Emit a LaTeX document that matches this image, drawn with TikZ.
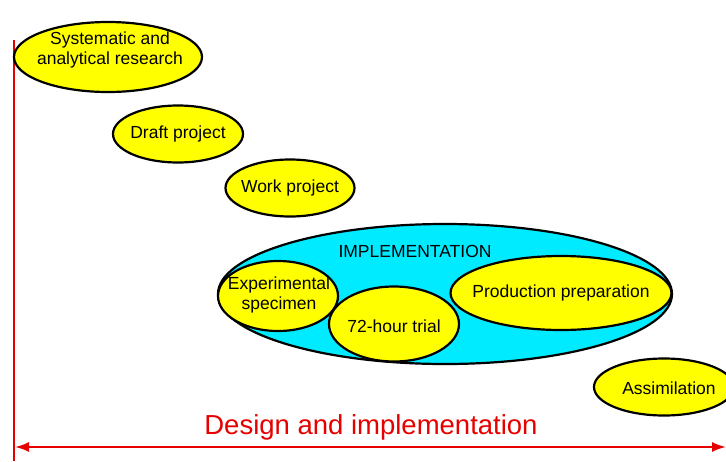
\documentclass[tikz,border=0pt]{standalone}
\usepackage{fontspec}
\setmainfont{Liberation Sans}
\usetikzlibrary{arrows.meta}
\definecolor{implcyan}{RGB}{0,235,255}
\definecolor{stageyellow}{RGB}{255,255,0}
\definecolor{designred}{RGB}{230,0,0}
\tikzset{
  stage/.style={draw=black, line width=2.2pt, fill=stageyellow},
  stagetext/.style={inner sep=0pt, align=center, font=\fontsize{17.5}{20.5}\selectfont},
}
\begin{document}
\begin{tikzpicture}[x=1pt,y=-1pt]
\useasboundingbox (0,0) rectangle (726,461);
\coordinate (top) at (14,40);
\coordinate (bottom) at (14,461);
\coordinate (left) at (15,447);
\coordinate (right) at (726,447);
\draw[designred, line width=2pt] (top) -- (bottom);
\begin{scope}
\clip (0,0) rectangle (726,461);
\draw[stage] (108,57) ellipse [x radius=94, y radius=35];
\node[stagetext] (sys) at (110,50) {Systematic and\\analytical research};
\draw[stage] (178,134) ellipse [x radius=65, y radius=28.5];
\node[stagetext] (draft) at (178,134) {Draft project};
\draw[stage] (290,188) ellipse [x radius=64.5, y radius=28.5];
\node[stagetext] (work) at (290,188) {Work project};
\draw[stage, fill=implcyan] (445,294) ellipse [x radius=227, y radius=70];
\node[stagetext] (impl) at (415,251) {IMPLEMENTATION};
\draw[stage] (561,293) ellipse [x radius=110.5, y radius=37];
\node[stagetext] (prod) at (561,293) {Production preparation};
\draw[stage] (278,296) ellipse [x radius=60, y radius=35];
\node[stagetext] (spec) at (279,295) {Experimental\\specimen};
\draw[stage] (394,324) ellipse [x radius=65, y radius=37.5];
\node[stagetext] (trial) at (394,326) {72-hour trial};
\draw[stage] (664,387) ellipse [x radius=70, y radius=28.5];
\node[stagetext] (assim) at (669,388) {Assimilation};
\end{scope}
\draw[designred, line width=2pt, {Latex[length=14pt,width=10pt]}-{Latex[length=14pt,width=10pt]}] (left) -- (right);
\node[text=designred, font=\fontsize{27.5}{32}\selectfont] (design) at (371,427) {Design and implementation};
\end{tikzpicture}
\end{document}
